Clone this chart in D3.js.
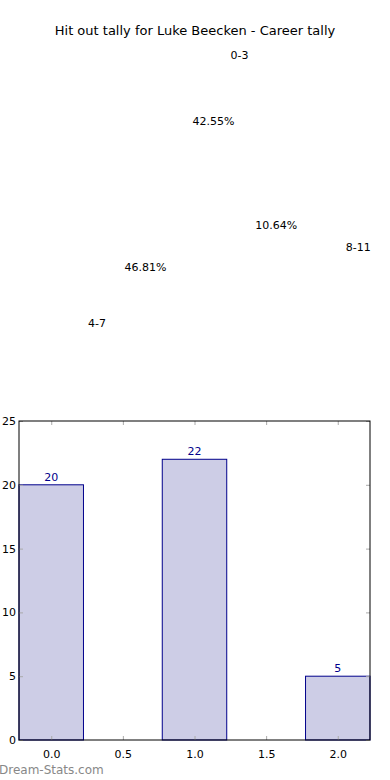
<!DOCTYPE html>
<html>
<head>
<meta charset="utf-8">
<script src="https://cdn.jsdelivr.net/npm/d3@7"></script>
<style>
  body { margin: 0; background: #fff; }
  svg { display: block; font-family: "DejaVu Sans", sans-serif; }
  .tick line { stroke: #aaa; }
</style>
</head>
<body>
<div id="chart"></div>
<script>
var width = 390,
    height = 780;

// pie data
var pieLabels = ["0-3", "4-7", "8-11"];
var pieCounts = [20, 22, 5];

// bar data
var barX = [0, 1, 2];
var barValues = [20, 22, 5];
var xTicks = [0, 0.5, 1, 1.5, 2];
var yTicks = [0, 5, 10, 15, 20, 25];

var svg = d3.select("#chart")
  .append("svg")
  .attr("width", width)
  .attr("height", height);

svg.append("text")
  .attr("x", 195)
  .attr("y", 35)
  .attr("text-anchor", "middle")
  .style("font-size", "13px")
  .text("Hit out tally for Luke Beecken - Career tally");

// pie, starting at 3 o'clock and going counterclockwise like matplotlib
var cx = 193, cy = 199, rx = 147, ry = 134;
var total = d3.sum(pieCounts);

var pie = d3.pie()
  .sort(null)
  .startAngle(Math.PI / 2)
  .endAngle(Math.PI / 2 - 2 * Math.PI);

var arcs = pie(pieCounts);

var pieG = svg.append("g")
  .attr("transform", "translate(" + cx + "," + cy + ") scale(" + (rx / 100) + "," + (ry / 100) + ")");

var arc = d3.arc().innerRadius(0).outerRadius(100);

// slices are white in the original, only the labels show
pieG.selectAll("path")
  .data(arcs)
  .enter()
  .append("path")
  .attr("d", arc)
  .attr("fill", "#fff");

function piePoint(d, k) {
  var a = (d.startAngle + d.endAngle) / 2;
  return [cx + Math.sin(a) * rx * k, cy - Math.cos(a) * ry * k];
}

svg.selectAll(".pie-label")
  .data(arcs)
  .enter()
  .append("text")
  .attr("class", "pie-label")
  .attr("x", function(d) { return piePoint(d, 1.1)[0]; })
  .attr("y", function(d) { return piePoint(d, 1.1)[1]; })
  .attr("dy", "0.35em")
  .attr("text-anchor", function(d) { return piePoint(d, 1.1)[0] > cx ? "start" : "end"; })
  .style("font-size", "11px")
  .text(function(d, i) { return pieLabels[i]; });

svg.selectAll(".pie-pct")
  .data(arcs)
  .enter()
  .append("text")
  .attr("class", "pie-pct")
  .attr("x", function(d) { return piePoint(d, 0.6)[0]; })
  .attr("y", function(d) { return piePoint(d, 0.6)[1]; })
  .attr("dy", "0.35em")
  .attr("text-anchor", "middle")
  .style("font-size", "11px")
  .text(function(d) { return (d.value / total * 100).toFixed(2) + "%"; });

// bar chart
var axLeft = 19, axRight = 370, axTop = 421, axBottom = 740;
var barWidth = 0.45;

var xScale = d3.scaleLinear()
  .domain([-0.225, 2.225])
  .range([axLeft, axRight]);

var yScale = d3.scaleLinear()
  .domain([0, 25])
  .range([axBottom, axTop]);

svg.selectAll(".bar")
  .data(barValues)
  .enter()
  .append("rect")
  .attr("class", "bar")
  .attr("x", function(d, i) { return xScale(barX[i] - barWidth / 2); })
  .attr("y", function(d) { return yScale(d); })
  .attr("width", function(d, i) { return xScale(barX[i] + barWidth / 2) - xScale(barX[i] - barWidth / 2); })
  .attr("height", function(d) { return axBottom - yScale(d); })
  .attr("fill", "#cdcde6")
  .attr("stroke", "#00008b")
  .attr("stroke-width", 1);

svg.selectAll(".bar-label")
  .data(barValues)
  .enter()
  .append("text")
  .attr("class", "bar-label")
  .attr("x", function(d, i) { return xScale(barX[i]); })
  .attr("y", function(d) { return yScale(d) - 4; })
  .attr("text-anchor", "middle")
  .attr("fill", "#00008b")
  .style("font-size", "11px")
  .text(function(d) { return d; });

// axes, ticks pointing inward on all four sides
var xAxis = d3.axisBottom(xScale)
  .tickValues(xTicks)
  .tickFormat(d3.format(".1f"))
  .tickSizeInner(-4)
  .tickSizeOuter(0)
  .tickPadding(10);

var xAxisTop = d3.axisTop(xScale)
  .tickValues(xTicks)
  .tickFormat("")
  .tickSizeInner(-4)
  .tickSizeOuter(0);

var yAxis = d3.axisLeft(yScale)
  .tickValues(yTicks)
  .tickSizeInner(-4)
  .tickSizeOuter(0)
  .tickPadding(3);

var yAxisRight = d3.axisRight(yScale)
  .tickValues(yTicks)
  .tickFormat("")
  .tickSizeInner(-4)
  .tickSizeOuter(0);

function styleAxis(g) {
  g.select(".domain").remove();
  g.selectAll("text")
    .style("font-family", "DejaVu Sans, sans-serif")
    .style("font-size", "11px")
    .attr("fill", "#000");
}

svg.append("g").attr("transform", "translate(0," + axBottom + ")").call(xAxis).call(styleAxis);
svg.append("g").attr("transform", "translate(0," + axTop + ")").call(xAxisTop).call(styleAxis);
svg.append("g").attr("transform", "translate(" + axLeft + ",0)").call(yAxis).call(styleAxis);
svg.append("g").attr("transform", "translate(" + axRight + ",0)").call(yAxisRight).call(styleAxis);

svg.append("rect")
  .attr("x", axLeft)
  .attr("y", axTop)
  .attr("width", axRight - axLeft)
  .attr("height", axBottom - axTop)
  .attr("fill", "none")
  .attr("stroke", "#000")
  .attr("stroke-width", 1);

svg.append("text")
  .attr("x", -1)
  .attr("y", 774)
  .attr("fill", "#888")
  .style("font-size", "12px")
  .text("Dream-Stats.com");
</script>
</body>
</html>
